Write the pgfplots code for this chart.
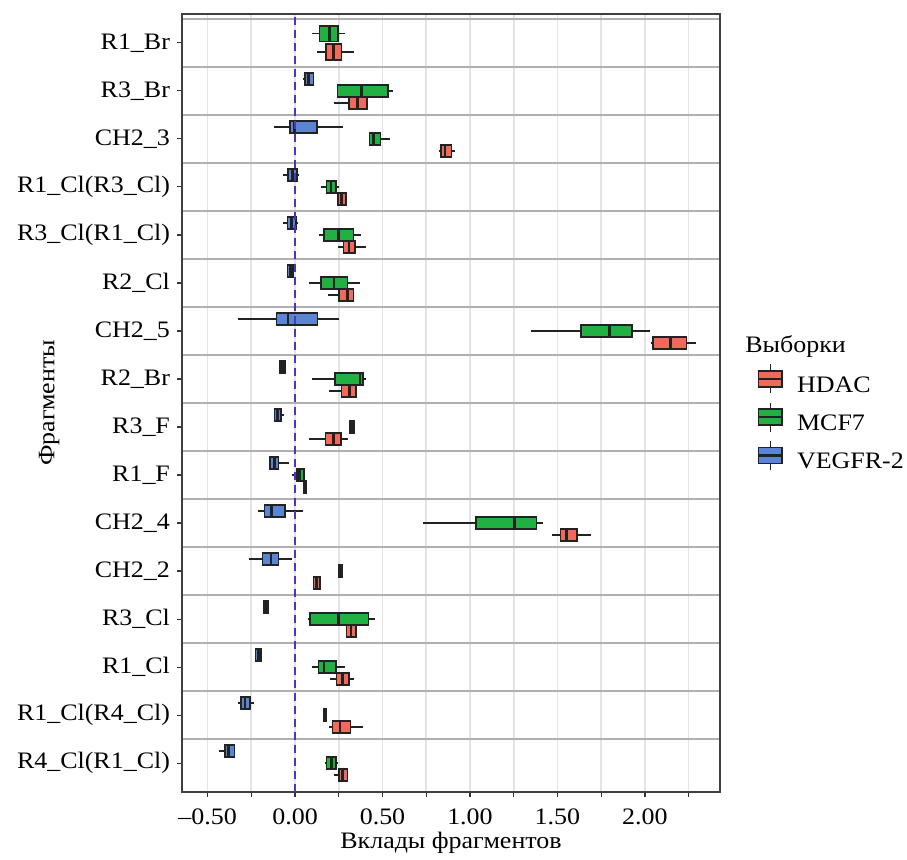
\documentclass[border=0pt]{standalone}
\usepackage{fontspec}
\setmainfont[FakeStretch=1.1]{Liberation Serif}
\usepackage{pgfplots}
\pgfplotsset{compat=1.18}
\usepgfplotslibrary{statistics}
\usetikzlibrary{calc}
\definecolor{hdac}{HTML}{F0695A}
\definecolor{mcf}{HTML}{22B043}
\definecolor{veg}{HTML}{5A85D5}
\definecolor{zline}{HTML}{4638C0}
\definecolor{sepc}{HTML}{B0B0B0}
\definecolor{gridc}{HTML}{E1E5EA}
\definecolor{ink}{HTML}{222222}
\begin{document}
\begin{tikzpicture}[font=\fontsize{11.8}{14}\selectfont]
\begin{axis}[name=ax, scale only axis, width=269pt, height=389pt,
    xmin=-0.646, xmax=2.429, ymin=-0.6, ymax=15.6,
    xtick={-0.5,-0.25,0,0.25,0.5,0.75,1,1.25,1.5,1.75,2,2.25},
    xticklabels={–0.50,,0.00,,0.50,,1.00,,1.50,,2.00,},
    xticklabel style={yshift=-2.5pt},
    ytick={0,...,15},
    yticklabels={R4\_Cl(R1\_Cl),R1\_Cl(R4\_Cl),R1\_Cl,R3\_Cl,CH2\_2,CH2\_4,R1\_F,R3\_F,R2\_Br,CH2\_5,R2\_Cl,R3\_Cl(R1\_Cl),R1\_Cl(R3\_Cl),CH2\_3,R3\_Br,R1\_Br},
    minor ytick={0.5,1.5,...,15.5},
    xmajorgrids, yminorgrids,
    major grid style={gridc, line width=0.8pt},
    minor grid style={sepc, line width=1pt},
    minor tick length=0pt,
    tick align=outside, major tick length=2.5pt,
    xtick pos=bottom, ytick pos=left,
    tick style={black!80, line width=0.6pt},
    axis line style={black!75, line width=0.7pt},
    xlabel={Вклады фрагментов}, ylabel={Фрагменты},
    xlabel style={at={(axis description cs:0.5,-0.072)}, anchor=base},
    ylabel style={at={(axis description cs:-0.247,0.5)}, anchor=center},
    boxplot/draw direction=x,
    boxplot/whisker extend=0,
    boxplot/every box/.style={draw=ink, line width=0.8pt},
    boxplot/every whisker/.style={ink, line width=0.8pt},
    boxplot/every median/.style={ink, line width=1.3pt},
    hd/.style={fill=hdac, forget plot},
    mc/.style={fill=mcf, forget plot},
    vg/.style={fill=veg, forget plot},
    legend style={at={(1.069,0.481)}, anchor=west, draw=none, fill=none, inner sep=0pt,
      row sep=3.3pt, nodes={inner sep=0pt},
      /tikz/every odd column/.append style={column sep=7pt}},
    legend cell align=left]
% R1_Br
\addplot[mc, boxplot prepared={lower whisker=0.095, lower quartile=0.139, median=0.196, upper quartile=0.244, upper whisker=0.286, draw position=15.19, box extend=0.33}] coordinates {};
\addplot[hd, boxplot prepared={lower whisker=0.124, lower quartile=0.177, median=0.219, upper quartile=0.266, upper whisker=0.339, draw position=14.81, box extend=0.33}] coordinates {};
% R3_Br
\addplot[vg, boxplot prepared={lower whisker=0.044, lower quartile=0.057, median=0.077, upper quartile=0.105, upper whisker=0.105, draw position=14.25, box extend=0.25}] coordinates {};
\addplot[mc, boxplot prepared={lower whisker=0.242, lower quartile=0.242, median=0.381, upper quartile=0.533, upper whisker=0.558, draw position=14, box extend=0.25}] coordinates {};
\addplot[hd, boxplot prepared={lower whisker=0.225, lower quartile=0.309, median=0.357, upper quartile=0.41, upper whisker=0.41, draw position=13.75, box extend=0.25}] coordinates {};
% CH2_3
\addplot[vg, boxplot prepared={lower whisker=-0.12, lower quartile=-0.029, median=-0.004, upper quartile=0.124, upper whisker=0.272, draw position=13.25, box extend=0.25}] coordinates {};
\addplot[mc, boxplot prepared={lower whisker=0.42, lower quartile=0.425, median=0.45, upper quartile=0.489, upper whisker=0.543, draw position=13, box extend=0.25}] coordinates {};
\addplot[hd, boxplot prepared={lower whisker=0.823, lower quartile=0.833, median=0.857, upper quartile=0.895, upper whisker=0.914, draw position=12.75, box extend=0.25}] coordinates {};
% R1_Cl(R3_Cl)
\addplot[vg, boxplot prepared={lower whisker=-0.066, lower quartile=-0.039, median=-0.015, upper quartile=0.010, upper whisker=0.025, draw position=12.25, box extend=0.25}] coordinates {};
\addplot[mc, boxplot prepared={lower whisker=0.147, lower quartile=0.181, median=0.206, upper quartile=0.235, upper whisker=0.251, draw position=12, box extend=0.25}] coordinates {};
\addplot[hd, boxplot prepared={lower whisker=0.244, lower quartile=0.244, median=0.267, upper quartile=0.291, upper whisker=0.291, draw position=11.75, box extend=0.25}] coordinates {};
% R3_Cl(R1_Cl)
\addplot[vg, boxplot prepared={lower whisker=-0.066, lower quartile=-0.042, median=-0.02, upper quartile=0.006, upper whisker=0.019, draw position=11.25, box extend=0.25}] coordinates {};
\addplot[mc, boxplot prepared={lower whisker=0.139, lower quartile=0.165, median=0.248, upper quartile=0.334, upper whisker=0.375, draw position=11, box extend=0.25}] coordinates {};
\addplot[hd, boxplot prepared={lower whisker=0.248, lower quartile=0.276, median=0.309, upper quartile=0.343, upper whisker=0.406, draw position=10.75, box extend=0.25}] coordinates {};
% R2_Cl
\addplot[vg, boxplot prepared={lower whisker=-0.042, lower quartile=-0.042, median=-0.025, upper quartile=-0.01, upper whisker=-0.01, draw position=10.25, box extend=0.25}] coordinates {};
\addplot[mc, boxplot prepared={lower whisker=0.082, lower quartile=0.149, median=0.223, upper quartile=0.301, upper whisker=0.371, draw position=10, box extend=0.25}] coordinates {};
\addplot[hd, boxplot prepared={lower whisker=0.187, lower quartile=0.253, median=0.30, upper quartile=0.334, upper whisker=0.334, draw position=9.75, box extend=0.25}] coordinates {};
% CH2_5
\addplot[vg, boxplot prepared={lower whisker=-0.324, lower quartile=-0.105, median=-0.039, upper quartile=0.128, upper whisker=0.253, draw position=9.25, box extend=0.25}] coordinates {};
\addplot[mc, boxplot prepared={lower whisker=1.347, lower quartile=1.634, median=1.796, upper quartile=1.927, upper whisker=2.028, draw position=9, box extend=0.25}] coordinates {};
\addplot[hd, boxplot prepared={lower whisker=2.032, lower quartile=2.047, median=2.146, upper quartile=2.238, upper whisker=2.291, draw position=8.75, box extend=0.25}] coordinates {};
% R2_Br
\addplot[vg, boxplot prepared={lower whisker=-0.086, lower quartile=-0.086, median=-0.07, upper quartile=-0.057, upper whisker=-0.057, draw position=8.25, box extend=0.25}] coordinates {};
\addplot[mc, boxplot prepared={lower whisker=0.099, lower quartile=0.229, median=0.371, upper quartile=0.387, upper whisker=0.404, draw position=8, box extend=0.25}] coordinates {};
\addplot[hd, boxplot prepared={lower whisker=0.196, lower quartile=0.266, median=0.31, upper quartile=0.349, upper whisker=0.349, draw position=7.75, box extend=0.25}] coordinates {};
% R3_F
\addplot[vg, boxplot prepared={lower whisker=-0.118, lower quartile=-0.118, median=-0.1, upper quartile=-0.08, upper whisker=-0.061, draw position=7.25, box extend=0.25}] coordinates {};
\addplot[mc, boxplot prepared={lower whisker=0.314, lower quartile=0.314, median=0.326, upper quartile=0.337, upper whisker=0.337, draw position=7, box extend=0.25}] coordinates {};
\addplot[hd, boxplot prepared={lower whisker=0.08, lower quartile=0.175, median=0.219, upper quartile=0.262, upper whisker=0.301, draw position=6.75, box extend=0.25}] coordinates {};
% R1_F
\addplot[vg, boxplot prepared={lower whisker=-0.143, lower quartile=-0.143, median=-0.118, upper quartile=-0.095, upper whisker=-0.033, draw position=6.25, box extend=0.25}] coordinates {};
\addplot[mc, boxplot prepared={lower whisker=-0.015, lower quartile=0.01, median=0.025, upper quartile=0.051, upper whisker=0.051, draw position=6, box extend=0.25}] coordinates {};
\addplot[hd, boxplot prepared={lower whisker=0.048, lower quartile=0.048, median=0.057, upper quartile=0.066, upper whisker=0.066, draw position=5.75, box extend=0.25}] coordinates {};
% CH2_4
\addplot[vg, boxplot prepared={lower whisker=-0.21, lower quartile=-0.175, median=-0.134, upper quartile=-0.057, upper whisker=0.048, draw position=5.25, box extend=0.25}] coordinates {};
\addplot[mc, boxplot prepared={lower whisker=0.734, lower quartile=1.033, median=1.253, upper quartile=1.381, upper whisker=1.416, draw position=5, box extend=0.25}] coordinates {};
\addplot[hd, boxplot prepared={lower whisker=1.466, lower quartile=1.518, median=1.553, upper quartile=1.61, upper whisker=1.689, draw position=4.75, box extend=0.25}] coordinates {};
% CH2_2
\addplot[vg, boxplot prepared={lower whisker=-0.261, lower quartile=-0.185, median=-0.137, upper quartile=-0.095, upper whisker=-0.019, draw position=4.25, box extend=0.25}] coordinates {};
\addplot[mc, boxplot prepared={lower whisker=0.253, lower quartile=0.253, median=0.263, upper quartile=0.272, upper whisker=0.272, draw position=4, box extend=0.25}] coordinates {};
\addplot[hd, boxplot prepared={lower whisker=0.105, lower quartile=0.105, median=0.124, upper quartile=0.143, upper whisker=0.143, draw position=3.75, box extend=0.25}] coordinates {};
% R3_Cl
\addplot[vg, boxplot prepared={lower whisker=-0.181, lower quartile=-0.181, median=-0.17, upper quartile=-0.156, upper whisker=-0.156, draw position=3.25, box extend=0.25}] coordinates {};
\addplot[mc, boxplot prepared={lower whisker=0.072, lower quartile=0.086, median=0.248, upper quartile=0.419, upper whisker=0.457, draw position=3, box extend=0.25}] coordinates {};
\addplot[hd, boxplot prepared={lower whisker=0.295, lower quartile=0.295, median=0.32, upper quartile=0.347, upper whisker=0.347, draw position=2.75, box extend=0.25}] coordinates {};
% R1_Cl
\addplot[vg, boxplot prepared={lower whisker=-0.225, lower quartile=-0.225, median=-0.21, upper quartile=-0.196, upper whisker=-0.196, draw position=2.25, box extend=0.25}] coordinates {};
\addplot[mc, boxplot prepared={lower whisker=0.095, lower quartile=0.134, median=0.165, upper quartile=0.235, upper whisker=0.286, draw position=2, box extend=0.25}] coordinates {};
\addplot[hd, boxplot prepared={lower whisker=0.2, lower quartile=0.238, median=0.27, upper quartile=0.309, upper whisker=0.338, draw position=1.75, box extend=0.25}] coordinates {};
% R1_Cl(R4_Cl)
\addplot[vg, boxplot prepared={lower whisker=-0.328, lower quartile=-0.309, median=-0.285, upper quartile=-0.257, upper whisker=-0.234, draw position=1.25, box extend=0.25}] coordinates {};
\addplot[mc, boxplot prepared={lower whisker=0.162, lower quartile=0.162, median=0.172, upper quartile=0.181, upper whisker=0.181, draw position=1, box extend=0.25}] coordinates {};
\addplot[hd, boxplot prepared={lower whisker=0.194, lower quartile=0.215, median=0.257, upper quartile=0.318, upper whisker=0.39, draw position=0.75, box extend=0.25}] coordinates {};
% R4_Cl(R1_Cl)
\addplot[vg, boxplot prepared={lower whisker=-0.433, lower quartile=-0.4, median=-0.381, upper quartile=-0.347, upper whisker=-0.347, draw position=0.25, box extend=0.25}] coordinates {};
\addplot[mc, boxplot prepared={lower whisker=0.171, lower quartile=0.181, median=0.208, upper quartile=0.233, upper whisker=0.244, draw position=0, box extend=0.25}] coordinates {};
\addplot[hd, boxplot prepared={lower whisker=0.223, lower quartile=0.251, median=0.27, upper quartile=0.299, upper whisker=0.299, draw position=-0.25, box extend=0.25}] coordinates {};
% zero line
\addplot[zline, line width=0.8pt, dash pattern=on 4pt off 2.5pt, forget plot] coordinates {(0,-0.6) (0,15.6)};
% legend
\addlegendimage{legend image code/.code={
  \draw[ink, line width=0.8pt] (5.85pt,-3.6pt) -- (5.85pt,10.8pt);
  \draw[fill=hdac, draw=ink, line width=0.8pt] (0pt,-0.4pt) rectangle (11.7pt,7.6pt);
  \draw[ink, line width=1.1pt] (0pt,3.6pt) -- (11.7pt,3.6pt);}}
\addlegendentry{HDAC}
\addlegendimage{legend image code/.code={
  \draw[ink, line width=0.8pt] (5.85pt,-3.6pt) -- (5.85pt,10.8pt);
  \draw[fill=mcf, draw=ink, line width=0.8pt] (0pt,-0.4pt) rectangle (11.7pt,7.6pt);
  \draw[ink, line width=1.1pt] (0pt,3.6pt) -- (11.7pt,3.6pt);}}
\addlegendentry{MCF7}
\addlegendimage{legend image code/.code={
  \draw[ink, line width=0.8pt] (5.85pt,-3.6pt) -- (5.85pt,10.8pt);
  \draw[fill=veg, draw=ink, line width=0.8pt] (0pt,-0.4pt) rectangle (11.7pt,7.6pt);
  \draw[ink, line width=1.1pt] (0pt,3.6pt) -- (11.7pt,3.6pt);}}
\addlegendentry{VEGFR-2}
\end{axis}
\node[anchor=west, inner sep=0pt] at ($(ax.north east)+(12.5pt,-166.5pt)$) {Выборки};
\path ($(ax.south west)+(-91pt,-32.5pt)$) ($(ax.north east)+(93.5pt,7pt)$);
\end{tikzpicture}
\end{document}
